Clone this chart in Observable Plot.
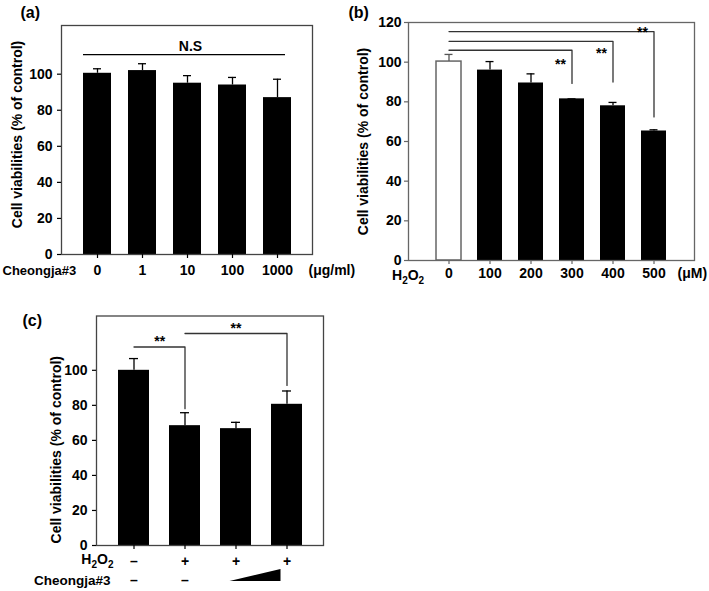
<!DOCTYPE html>
<html><head><meta charset="utf-8">
<script src="https://cdn.jsdelivr.net/npm/d3@7"></script>
<script src="https://cdn.jsdelivr.net/npm/@observablehq/plot@0.6"></script>
<style>
body{margin:0;background:#fff;}
#wrap{position:relative;width:709px;height:591px;background:#fff;overflow:hidden;}
#wrap svg{position:absolute;max-width:none;background:transparent;overflow:visible;}
</style></head><body><div id="wrap"></div>
<script>
// ---------- Panel (a) ----------
const catsA = ["0", "1", "10", "100", "1000"];
const valsA = [100.5, 102, 95, 94, 87];
const errA = [2.5, 3.8, 4.2, 4.2, 10.2];
const yTicksA = [0, 20, 40, 60, 80, 100];
const nsA = {from: "0", to: "1000", mid: "10", y: 110.8, labelY: 115.5, label: "N.S"};

// ---------- Panel (b) ----------
const catsB = ["0", "100", "200", "300", "400", "500"];
const valsB = [100.3, 96, 89.5, 81.5, 78, 65.3];
const errB = [3.6, 4.3, 4.6, 0, 1.7, 0.6];
const yTicksB = [0, 20, 40, 60, 80, 100, 120];
const sigBfrom = ["0", "0", "0"];
const sigBto = ["300", "400", "500"];
const sigBtop = [106, 110.5, 115.4];
const sigBend = [89.3, 90, 72.4];
const sigBstar = [100.4, 105.9, 116.5];

// ---------- Panel (c) ----------
const catsC = ["control", "H2O2", "H2O2+low", "H2O2+high"];
const valsC = [100, 68.4, 66.7, 80.6];
const errC = [6.7, 7.4, 3.6, 7.6];
const yTicksC = [0, 20, 40, 60, 80, 100];
const h2o2Row = ["–", "+", "+", "+"];
const cheongjaRow = ["–", "–", "", ""];
const wedgeCats = ["H2O2+low", "H2O2+high"];
const wedgeLevel = [0, 1];
const sigCfrom = ["control", "H2O2"];
const sigCto = ["H2O2", "H2O2+high"];
const sigCtop = [113.3, 121];
const sigCend = [78.1, 91.4];
const sigCstar = [118.1, 125.7];

const YLABEL = "Cell viabilities (% of control)";
const H2O2 = "H₂O₂";
const FONT = "'Liberation Sans', Arial, sans-serif";
const wrap = document.getElementById("wrap");
const baseStyle = {fontFamily: FONT, fontWeight: "bold", fontSize: "14px", background: "transparent", color: "#000", overflow: "visible"};
const one = s => [s];
const txt = d => d;

function place(svg, left, top) {
  svg.style.left = left + "px";
  svg.style.top = top + "px";
  // render chemical formula with real subscripts
  svg.querySelectorAll("text").forEach(t => {
    if (t.textContent === H2O2) {
      t.innerHTML = 'H<tspan dy="3.5" font-size="10">2</tspan><tspan dy="-3.5">O</tspan><tspan dy="3.5" font-size="10">2</tspan>';
    }
  });
  wrap.appendChild(svg);
}

// ===== (a) =====
const dA = catsA.map((c, i) => ({cat: c, value: valsA[i], err: errA[i]}));
const plotA = Plot.plot({
  width: 360, height: 295,
  marginLeft: 61, marginRight: 48, marginTop: 25, marginBottom: 41,
  style: baseStyle,
  x: {domain: catsA, paddingInner: 0.38, paddingOuter: 0.44, label: null},
  y: {domain: [0, 127], label: null},
  marks: [
    Plot.barY(dA, {x: "cat", y: "value", fill: "#000"}),
    Plot.ruleX(dA, {x: "cat", y1: "value", y2: d => d.value + d.err, stroke: "#000", strokeWidth: 1.3}),
    Plot.tickY(dA, {x: "cat", y: d => d.value + d.err, stroke: "#000", strokeWidth: 1.3, insetLeft: 10, insetRight: 10}),
    Plot.ruleY([nsA], {y: "y", x1: d => d.from, x2: d => d.to, insetRight: 6, stroke: "#000", strokeWidth: 1.3}),
    Plot.text([nsA], {x: d => d.mid, y: "labelY", text: "label", dx: 3, fontSize: 14}),
    Plot.frame({stroke: "#444", strokeWidth: 1.3}),
    Plot.axisY({ticks: yTicksA, tickSize: 4, tickPadding: 5, label: null, strokeWidth: 1.2}),
    Plot.axisX({tickSize: 4, tickPadding: 7, label: null, strokeWidth: 1.2}),
    Plot.text(one(YLABEL), {text: txt, frameAnchor: "left", textAnchor: "middle", lineAnchor: "middle", rotate: -90, dx: -44, dy: -5.5, fontSize: 14}),
    Plot.text(one("Cheongja#3"), {text: txt, frameAnchor: "bottom-left", textAnchor: "start", lineAnchor: "top", dx: -59, dy: 11, fontSize: 13}),
    Plot.text(one("(μg/ml)"), {text: txt, frameAnchor: "bottom-right", textAnchor: "start", lineAnchor: "top", dx: -4, dy: 11, fontSize: 14}),
    Plot.text(one("(a)"), {text: txt, frameAnchor: "top-left", textAnchor: "start", lineAnchor: "middle", dx: -41, dy: -13, fontSize: 16})
  ]
});
place(plotA, 0, 0);

// ===== (b) =====
const dB = catsB.map((c, i) => ({cat: c, value: valsB[i], err: errB[i]}));
const sigB = sigBto.map((t, i) => ({id: i, from: sigBfrom[i], to: t, top: sigBtop[i], end: sigBend[i], star: sigBstar[i]}));
const sigBpts = sigB.flatMap(s => [
  {id: s.id, x: s.from, y: s.top},
  {id: s.id, x: s.to, y: s.top},
  {id: s.id, x: s.to, y: s.end}
]);
const isCtrlB = d => d.cat === catsB[0];
const plotB = Plot.plot({
  width: 369, height: 295,
  marginLeft: 68, marginRight: 15, marginTop: 22, marginBottom: 35,
  style: baseStyle,
  x: {domain: catsB, paddingInner: 0.38, paddingOuter: 0.6, label: null},
  y: {domain: [0, 120], label: null},
  marks: [
    Plot.barY(dB.filter(isCtrlB), {x: "cat", y: "value", fill: "#fff", stroke: "#666", strokeWidth: 1.5}),
    Plot.barY(dB.filter(d => !isCtrlB(d)), {x: "cat", y: "value", fill: "#000"}),
    Plot.ruleX(dB, {x: "cat", y1: "value", y2: d => d.value + d.err, stroke: d => isCtrlB(d) ? "#555" : "#000", strokeWidth: 1.3}),
    Plot.tickY(dB, {x: "cat", y: d => d.value + d.err, stroke: d => isCtrlB(d) ? "#555" : "#000", strokeWidth: 1.3, insetLeft: 8.5, insetRight: 8.5}),
    Plot.line(sigBpts, {x: "x", y: "y", z: "id", stroke: "#333", strokeWidth: 1.3}),
    Plot.text(sigB, {x: "to", y: "star", text: () => "**", textAnchor: "end", dx: -6, dy: 3, fontSize: 14}),
    Plot.frame({stroke: "#666", strokeWidth: 1.3}),
    Plot.axisY({ticks: yTicksB, tickSize: 4, tickPadding: 3, label: null, strokeWidth: 1.2, stroke: "#666"}),
    Plot.axisX({tickSize: 4, tickPadding: 4, label: null, strokeWidth: 1.2, stroke: "#666"}),
    Plot.text(one(YLABEL), {text: txt, frameAnchor: "left", textAnchor: "middle", lineAnchor: "middle", rotate: -90, dx: -45, dy: 0, fontSize: 14}),
    Plot.text(one(H2O2), {text: txt, frameAnchor: "bottom-left", textAnchor: "start", lineAnchor: "top", dx: -16.5, dy: 10, fontSize: 14}),
    Plot.text(one("(μM)"), {text: txt, frameAnchor: "bottom-right", textAnchor: "start", lineAnchor: "top", dx: -17, dy: 8, fontSize: 14}),
    Plot.text(one("(b)"), {text: txt, frameAnchor: "top-left", textAnchor: "start", lineAnchor: "middle", dx: -60, dy: -10, fontSize: 16})
  ]
});
place(plotB, 340, 0);

// ===== (c) =====
const dC = catsC.map((c, i) => ({cat: c, value: valsC[i], err: errC[i], h2o2: h2o2Row[i], cj: cheongjaRow[i]}));
const sigC = sigCto.map((t, i) => ({id: i, from: sigCfrom[i], to: t, top: sigCtop[i], end: sigCend[i], star: sigCstar[i]}));
const sigCpts = sigC.flatMap(s => [
  {id: s.id, x: s.from, y: s.top},
  {id: s.id, x: s.to, y: s.top},
  {id: s.id, x: s.to, y: s.end}
]);
const wedge = wedgeCats.map((c, i) => ({cat: c, level: wedgeLevel[i]}));
const plotC = Plot.plot({
  width: 360, height: 296,
  marginLeft: 96, marginRight: 37, marginTop: 20.5, marginBottom: 46,
  style: baseStyle,
  x: {domain: catsC, paddingInner: 0.4, paddingOuter: 0.41, label: null},
  y: {domain: [0, 131], label: null},
  marks: [
    Plot.barY(dC, {x: "cat", y: "value", fill: "#000"}),
    Plot.ruleX(dC, {x: "cat", y1: "value", y2: d => d.value + d.err, stroke: "#000", strokeWidth: 1.3}),
    Plot.tickY(dC, {x: "cat", y: d => d.value + d.err, stroke: "#000", strokeWidth: 1.3, insetLeft: 11, insetRight: 11}),
    Plot.line(sigCpts, {x: "x", y: "y", z: "id", stroke: "#333", strokeWidth: 1.3}),
    Plot.text([sigC[0]], {x: "from", y: "star", text: () => "**", dx: 25.7, dy: 3, fontSize: 14}),
    Plot.text([sigC[1]], {x: () => catsC[2], y: "star", text: () => "**", dy: 3, fontSize: 14}),
    Plot.frame({stroke: "#444", strokeWidth: 1.3}),
    Plot.axisY({ticks: yTicksC, tickSize: 4, tickPadding: 5, label: null, strokeWidth: 1.2}),
    Plot.axisX({tickSize: 4, tickFormat: () => "", label: null, strokeWidth: 1.2}),
    Plot.text(one(YLABEL), {text: txt, frameAnchor: "left", textAnchor: "middle", lineAnchor: "middle", rotate: -90, dx: -40, dy: 19, fontSize: 14}),
    Plot.text(dC, {x: "cat", text: "h2o2", frameAnchor: "bottom", lineAnchor: "middle", dy: 16, fontSize: 14}),
    Plot.text(dC, {x: "cat", text: "cj", frameAnchor: "bottom", lineAnchor: "middle", dy: 35, fontSize: 14}),
    Plot.areaY(wedge, {x: "cat", y1: () => -20.6, y2: d => -20.6 + 6.9 * d.level, fill: "#000", dx: -6}),
    Plot.text(one(H2O2), {text: txt, frameAnchor: "bottom-left", textAnchor: "end", lineAnchor: "middle", dx: 17, dy: 14.5, fontSize: 14}),
    Plot.text(one("Cheongja#3"), {text: txt, frameAnchor: "bottom-left", textAnchor: "end", lineAnchor: "middle", dx: 14, dy: 35, fontSize: 13.5}),
    Plot.text(one("(c)"), {text: txt, frameAnchor: "top-left", textAnchor: "start", lineAnchor: "middle", dx: -74, dy: 4.5, fontSize: 16})
  ]
});
place(plotC, 0, 295);
</script></body></html>
